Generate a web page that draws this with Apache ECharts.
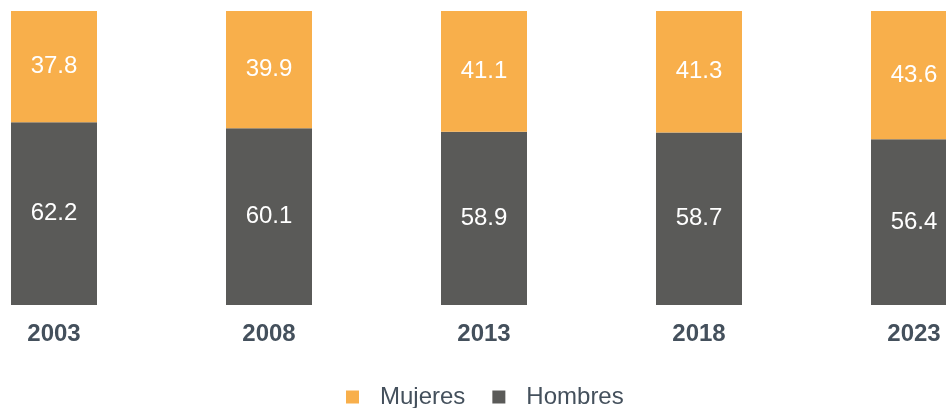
<!DOCTYPE html>
<html>
<head>
    <meta charset="utf-8">
    <title>Mujeres y Hombres</title>
    <script src="https://cdn.jsdelivr.net/npm/echarts@6/dist/echarts.min.js"></script>
</head>
<body style="margin:0">
    <div id="main" style="width: 946px;height:408px;"></div>
    <script type="text/javascript">
        var years = ['2003', '2008', '2013', '2018', '2023'];
        var mujeres = [37.8, 39.9, 41.1, 41.3, 43.6];
        var hombres = [62.2, 60.1, 58.9, 58.7, 56.4];

        var myChart = echarts.init(document.getElementById('main'));
        var font = 'Liberation Sans, Arial, sans-serif';
        var inside = {
            show: true,
            position: 'inside',
            color: '#fff',
            fontSize: 24,
            fontFamily: font,
            formatter: function (p) { return p.value.toFixed(1); }
        };
        var option = {
            animation: false,
            grid: { left: 54, right: 32, top: 11, bottom: 103 },
            xAxis: {
                type: 'category',
                data: years,
                boundaryGap: false,
                axisLine: { show: false },
                axisTick: { show: false },
                axisLabel: {
                    margin: 17,
                    fontSize: 24,
                    fontWeight: 'bold',
                    color: '#44505C',
                    fontFamily: font
                }
            },
            yAxis: { type: 'value', min: 0, max: 100, show: false },
            legend: {
                data: ['Mujeres', 'Hombres'],
                left: 346,
                top: 385,
                padding: 0,
                icon: 'rect',
                itemWidth: 13,
                itemHeight: 13,
                itemGap: 27,
                textStyle: {
                    fontSize: 24,
                    color: '#44505C',
                    fontFamily: font,
                    padding: [0, 0, 0, 16]
                }
            },
            series: [{
                name: 'Hombres',
                type: 'bar',
                stack: 'total',
                barWidth: 86,
                clip: false,
                itemStyle: { color: '#5A5A58' },
                label: inside,
                data: hombres
            }, {
                name: 'Mujeres',
                type: 'bar',
                stack: 'total',
                barWidth: 86,
                clip: false,
                itemStyle: { color: '#F8AF4B' },
                label: inside,
                data: mujeres
            }]
        };
        myChart.setOption(option);
    </script>
</body>
</html>
